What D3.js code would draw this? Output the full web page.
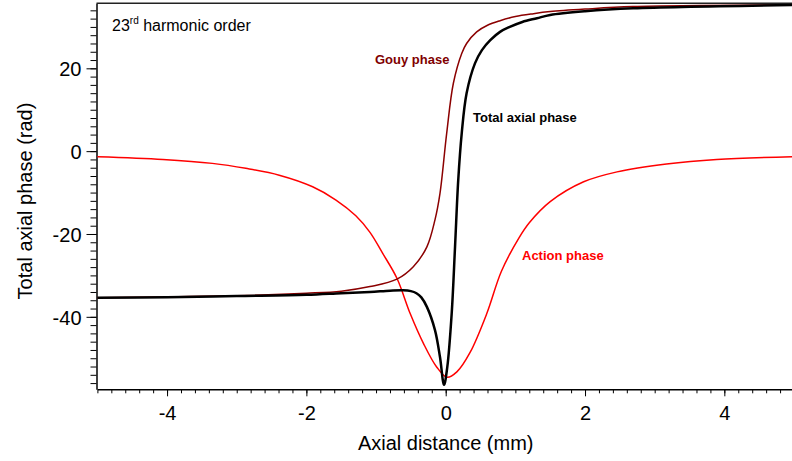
<!DOCTYPE html>
<html>
<head>
<meta charset="utf-8">
<script src="https://cdn.jsdelivr.net/npm/d3@7"></script>
<style>
  body { margin: 0; background: #fff; }
  svg { display: block; font-family: "Liberation Sans", Arial, sans-serif; }
</style>
</head>
<body>
<svg id="chart" width="792" height="461"></svg>
<script>
//values

//action phase (red)
let actionX = [-5.0, -4.06, -3.35, -2.87, -2.39, -1.91, -1.575, -1.29, -1.087, -0.90, -0.70, -0.51, -0.32, -0.13, 0.02, 0.16, 0.35, 0.59, 0.80, 1.05, 1.20, 1.50, 1.98, 2.46, 3.17, 3.89, 5.0];
let actionY = [-1.35, -2.0, -2.95, -4.15, -5.8, -8.6, -11.8, -15.6, -19.6, -24.8, -30.7, -39.2, -46.4, -52.1, -54.6, -53.3, -48.6, -39.2, -29.0, -21.0, -17.3, -12.2, -7.4, -5.0, -3.1, -2.0, -1.35];

//gouy phase (dark red)
let gouyX = [-5.0, -4.0, -3.0, -2.0, -1.5, -1.087, -0.70, -0.465, -0.27, -0.154, -0.082, 0.014, 0.11, 0.23, 0.30, 0.445, 0.60, 0.78, 1.0, 1.26, 1.50, 2.0, 2.69, 5.0];
let gouyY = [-35.4, -35.2, -34.9, -34.3, -33.8, -32.7, -30.9, -27.9, -23.1, -16.6, -10.2, 4.3, 16.4, 23.6, 26.0, 28.8, 30.4, 31.5, 32.5, 33.2, 33.7, 34.3, 34.9, 35.3];

//total axial phase (black)
let totalX = [-5.0, -4.0, -3.0, -2.0, -1.5, -1.087, -0.8, -0.61, -0.50, -0.42, -0.35, -0.27, -0.154, -0.082, -0.024, 0.023, 0.086, 0.134, 0.18, 0.23, 0.30, 0.42, 0.52, 0.64, 0.78, 0.92, 1.1, 1.31, 1.50, 2.0, 2.69, 5.0];
let totalY = [-35.4, -35.3, -35.0, -34.7, -34.3, -34.0, -33.7, -33.6, -33.8, -34.3, -35.3, -37.6, -43.2, -49.7, -56.4, -52.1, -39.2, -23.1, -7.0, 4.3, 14.0, 21.2, 24.4, 26.8, 28.8, 30.0, 31.2, 32.1, 32.9, 33.8, 34.5, 35.3];

//tick labels
let xTicks = [-4, -2, 0, 2, 4];
let yTicks = [-40, -20, 0, 20];

let svg = d3.select("#chart");
let margin = {top: 3.3, left: 96.5};
let width = 792, height = 461;

let x = d3.scaleLinear().domain([-5, 5]).range([97.4, 794]);
let y = d3.scaleLinear().domain([-57.5, 35.7]).range([389.3, 3.3]);

//minor ticks first, then major with labels
svg.append("g")
    .attr("transform", "translate(0," + y(-57.5) + ")")
    .call(d3.axisBottom(x).tickValues(d3.range(-50, 51, 2).map(d => d / 10)).tickSize(4).tickFormat("").tickSizeOuter(0))
    .call(g => g.select(".domain").remove());
svg.append("g")
    .attr("transform", "translate(" + margin.left + ",0)")
    .call(d3.axisLeft(y).tickValues(d3.range(-56, 36, 2)).tickSize(6).tickFormat("").tickSizeOuter(0))
    .call(g => g.select(".domain").remove());

let xAxis = svg.append("g")
    .attr("transform", "translate(0," + y(-57.5) + ")")
    .call(d3.axisBottom(x).tickValues(xTicks).tickSize(7).tickPadding(10).tickSizeOuter(0).tickFormat(d => String(d)));
let yAxis = svg.append("g")
    .attr("transform", "translate(" + margin.left + ",0)")
    .call(d3.axisLeft(y).tickValues(yTicks).tickSize(10).tickPadding(5).tickSizeOuter(0).tickFormat(d => String(d)));

[xAxis, yAxis].forEach(g => {
  g.selectAll("text").attr("font-size", 20).attr("fill", "#000").style("font-family", "'Liberation Sans', Arial, sans-serif");
  g.select(".domain").attr("stroke-width", 1.5);
});
xAxis.selectAll(".tick text").attr("dy", "0.71em");
yAxis.selectAll(".tick text").attr("dy", "0.36em");

//top frame line
svg.append("line")
    .attr("x1", margin.left).attr("x2", width)
    .attr("y1", margin.top).attr("y2", margin.top)
    .attr("stroke", "#222").attr("stroke-width", 1.5);

//curves
let line = d3.line()
    .x(d => x(d[0]))
    .y(d => y(d[1]))
    .curve(d3.curveCatmullRom.alpha(0.5));

let series = [
  {xs: actionX, ys: actionY, color: "#ff0000", w: 1.5},
  {xs: gouyX, ys: gouyY, color: "#8b0000", w: 1.5},
  {xs: totalX, ys: totalY, color: "#000000", w: 2.5}
];

let plot = svg.append("g");
plot.append("clipPath").attr("id", "clip")
  .append("rect").attr("x", margin.left).attr("y", 0).attr("width", width).attr("height", y(-57.5));

series.forEach(s => {
  plot.append("path")
      .datum(s.xs.map((v, i) => [v, s.ys[i]]))
      .attr("fill", "none")
      .attr("stroke", s.color)
      .attr("stroke-width", s.w)
      .attr("stroke-linejoin", "round")
      .attr("clip-path", "url(#clip)")
      .attr("d", line);
});

//labels
svg.append("text")
    .attr("x", x(0)).attr("y", 450)
    .attr("text-anchor", "middle").attr("font-size", 20)
    .text("Axial distance (mm)");

svg.append("text")
    .attr("transform", "translate(32," + 201 + ") rotate(-90)")
    .attr("text-anchor", "middle").attr("font-size", 20)
    .text("Total axial phase (rad)");

let note = svg.append("text").attr("x", 112).attr("y", 31).attr("font-size", 16);
note.append("tspan").text("23");
note.append("tspan").attr("font-size", 10).attr("dy", -7).text("rd");
note.append("tspan").attr("dy", 7).text(" harmonic order");

svg.append("text").attr("x", 375).attr("y", 64)
    .attr("font-size", 13).attr("font-weight", "bold").attr("fill", "#800000")
    .text("Gouy phase");
svg.append("text").attr("x", 473).attr("y", 122)
    .attr("font-size", 13).attr("font-weight", "bold").attr("fill", "#000")
    .text("Total axial phase");
svg.append("text").attr("x", 522).attr("y", 260)
    .attr("font-size", 13).attr("font-weight", "bold").attr("fill", "#ff0000")
    .text("Action phase");
</script>
</body>
</html>
